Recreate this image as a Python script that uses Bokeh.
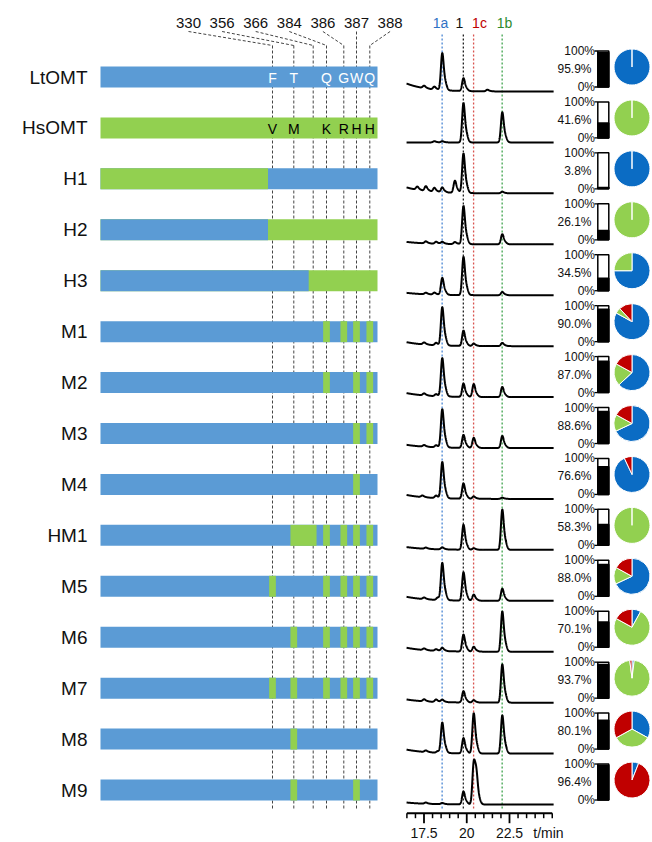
import numpy as np
from bokeh.plotting import figure
from bokeh.models import Range1d
from bokeh.core.properties import value
from bokeh.embed import file_html
from bokeh.resources import INLINE

# ---------------- data ----------------
variants = ["LtOMT", "HsOMT", "H1", "H2", "H3", "M1", "M2", "M3", "M4",
            "HM1", "M5", "M6", "M7", "M8", "M9"]
sites = ["330", "356", "366", "384", "386", "387", "388"]
lt_residues = ["F", "T", "", "Q", "G", "W", "Q"]
hs_residues = ["V", "M", "", "K", "R", "H", "H"]
n_term_origin = ["Lt", "Hs", "Hs", "Lt", "Lt", "Lt", "Lt", "Lt", "Lt", "Lt", "Lt", "Lt", "Lt", "Lt", "Lt"]
c_term_origin = ["Lt", "Hs", "Lt", "Hs", "Hs", "Lt", "Lt", "Lt", "Lt", "Lt", "Lt", "Lt", "Lt", "Lt", "Lt"]
junction_site = [None, None, "330", "330", "366", None, None, None, None, None, None, None, None, None, None]
hs_mutations = [[], [], [], [], [],
                ["384", "386", "387", "388"],
                ["384", "387", "388"],
                ["387", "388"],
                ["387"],
                ["356", "366", "384", "386", "387", "388"],
                ["330", "384", "386", "387", "388"],
                ["356", "384", "386", "387", "388"],
                ["330", "356", "384", "386", "387", "388"],
                ["356"],
                ["356", "387"]]

conversion = [95.9, 41.6, 3.8, 26.1, 34.5, 90.0, 87.0, 88.6, 76.6, 58.3, 88.0, 70.1, 93.7, 80.1, 96.4]
# product distribution (%), drawn clockwise from 12 o'clock: 1a, 1b, 1c
share_1a = [100, 0, 100, 0, 75, 83, 63, 68, 93, 0, 68, 8, 2, 33, 6]
share_1b = [0, 100, 0, 100, 25, 5, 20, 15, 0, 100, 15, 75, 96, 34, 0]
share_1c = [0, 0, 0, 0, 0, 12, 17, 17, 7, 0, 17, 17, 2, 33, 94]

# chromatograms: retention times (min) and relative peak heights
products = ["1a", "1", "1c", "1b"]
retention = [18.56, 19.80, 20.40, 22.07]
height_1a = [0.92, 0.03, 0.12, 0.05, 0.42, 0.95, 0.95, 0.95, 0.90, 0.05, 0.92, 0.08, 0.06, 0.75, 0.03]
height_1 = [0.32, 0.98, 0.98, 0.95, 0.95, 0.38, 0.33, 0.32, 0.38, 0.62, 0.70, 0.42, 0.28, 0.38, 0.32]
height_1c = [0.0, 0.0, 0.0, 0.0, 0.0, 0.06, 0.32, 0.25, 0.06, 0.04, 0.15, 0.12, 0.06, 1.0, 1.0]
height_1b = [0.0, 0.75, 0.04, 0.25, 0.08, 0.08, 0.25, 0.30, 0.03, 1.0, 0.30, 1.0, 0.95, 0.95, 0.0]
minor_peaks = [
    [(17.5, 0.06), (18.1, 0.07), (21.2, 0.04)],
    [(18.1, 0.03)],
    [(17.1, 0.08), (17.6, 0.12), (18.1, 0.10), (19.3, 0.30)],
    [(17.6, 0.05), (18.2, 0.05), (19.3, 0.05)],
    [(17.6, 0.04), (18.1, 0.05)],
    [(17.5, 0.05), (18.2, 0.06)],
    [(17.5, 0.05), (18.2, 0.05)],
    [(17.5, 0.04), (18.2, 0.05)],
    [(17.4, 0.04), (18.2, 0.06)],
    [(17.6, 0.03)],
    [(17.5, 0.04), (18.3, 0.06)],
    [(17.5, 0.04), (18.2, 0.04)],
    [(17.5, 0.05), (18.2, 0.06)],
    [(17.6, 0.04), (18.3, 0.04)],
    [(17.6, 0.03), (20.55, 0.55)],
]
drift = [0.20, 0.0, 0.15, 0.06, 0.06, 0.10, 0.10, 0.08, 0.10, 0.07, 0.10, 0.10, 0.08, 0.10, 0.05]

time_major = [17.5, 20, 22.5]
time_labels = ["17.5", "20", "22.5"]
time_start, time_end = 16.5, 25.0

# ---------------- layout / style ----------------
FONT = "Liberation Sans"
LT_COLOR = "#5B9BD5"
HS_COLOR = "#92D050"
PIE_BLUE = "#0B6CC4"
PIE_RED = "#C00000"
PROD_LINE_COLORS = ["#4A86D4", "#222222", "#D9534F", "#3FA34D"]
PROD_TEXT_COLORS = ["#2F72C4", "#111111", "#C00000", "#2E8B2E"]
PROD_LABEL_X = [440, 459, 479, 504]

W, H = 652, 842
ROW0, ROW_STEP = 76.5, 50.93
BAR_L, BAR_R, BAR_H = 100, 377, 21
SITE_X = [272, 293.3, 312.7, 326, 343.3, 356, 369.3]
SITE_LABEL_X0, SITE_LABEL_DX = 188, 33.6
MUT_W = 6.7
PX_PER_MIN = 17.1
T_REF, X_REF = 17.5, 423.5
CHROM_SCALE = 40
TRACE_T0, TRACE_T1 = 16.48, 25.08

p = figure(width=W, height=H, x_range=Range1d(0, W), y_range=Range1d(H, 0),
           output_backend="svg", toolbar_location=None, min_border=0,
           x_axis_location=None, y_axis_location=None)
p.grid.visible = False
p.outline_line_color = None
p.background_fill_color = "white"
p.extra_x_ranges = {"t": Range1d(T_REF + (0 - X_REF) / PX_PER_MIN,
                                 T_REF + (W - X_REF) / PX_PER_MIN)}

rows_y = [ROW0 + i * ROW_STEP for i in range(len(variants))]
site_pos = dict(zip(sites, SITE_X))
n = len(variants)

# ---- site header labels and leader lines ----
label_x = [SITE_LABEL_X0 + k * SITE_LABEL_DX for k in range(len(sites))]
p.text(x=label_x, y=[22.5] * len(sites), text=sites, text_font=value(FONT),
       text_font_size="15px", text_align="center", text_baseline="middle", text_color="#111111")
p.segment(x0=label_x, y0=[31] * len(sites), x1=SITE_X, y1=[45] * len(sites),
          line_color="#444444", line_dash="3 2", line_width=1)
p.segment(x0=SITE_X, y0=[45] * len(sites), x1=SITE_X, y1=[808] * len(sites),
          line_color="#444444", line_dash="3 2", line_width=1)

# ---- protein bars ----
origin_color = {"Lt": LT_COLOR, "Hs": HS_COLOR}
ql, qr, qt, qb, qc = [], [], [], [], []
for i, v in enumerate(variants):
    y = rows_y[i]
    ql.append(BAR_L); qr.append(BAR_R); qt.append(y - BAR_H / 2); qb.append(y + BAR_H / 2)
    qc.append(origin_color[c_term_origin[i]])
    if junction_site[i] is not None:
        jx = site_pos[junction_site[i]] - 4.5
        ql.append(BAR_L); qr.append(jx); qt.append(y - BAR_H / 2); qb.append(y + BAR_H / 2)
        qc.append(origin_color[n_term_origin[i]])
    muts = hs_mutations[i]
    k = 0
    while k < len(muts):
        s0 = muts[k]
        s1 = s0
        # contiguous swapped region 356-366
        if s0 == "356" and "366" in muts:
            s1 = "366"
        x0 = site_pos[s0] - MUT_W / 2
        x1 = site_pos[s1] + MUT_W / 2
        ql.append(x0); qr.append(x1); qt.append(y - BAR_H / 2); qb.append(y + BAR_H / 2)
        qc.append(HS_COLOR)
        k += 2 if s1 != s0 else 1
p.quad(left=ql, right=qr, top=qt, bottom=qb, fill_color=qc, line_color=None)

# residue letters
for row, letters, col in [(0, lt_residues, "white"), (1, hs_residues, "black")]:
    xs = [site_pos[s] for s, l in zip(sites, letters) if l]
    ts = [l for l in letters if l]
    p.text(x=xs, y=[rows_y[row] + 1] * len(xs), text=ts, text_font=value(FONT),
           text_font_size="14px", text_align="center", text_baseline="middle", text_color=col)

# row labels
p.text(x=[87] * n, y=rows_y, text=variants, text_font=value(FONT),
       text_font_size="19px", text_align="right", text_baseline="middle", text_color="#111111")

# ---- chromatograms ----
p.segment(x0=retention, y0=[34] * 4, x1=retention, y1=[808] * 4, x_range_name="t",
          line_color=PROD_LINE_COLORS, line_dash="2 2", line_width=1.3)
for k in range(4):
    p.text(x=[PROD_LABEL_X[k]], y=[22.5], text=[products[k]], text_font=value(FONT),
           text_font_size="14px", text_align="center", text_baseline="middle",
           text_color=PROD_TEXT_COLORS[k])

t = np.linspace(TRACE_T0, TRACE_T1, 900)
norm = 1 + 0.35 * np.exp(-0.5 * (0.13 / 0.11) ** 2)
for i in range(n):
    sig = drift[i] * np.exp(-(t - TRACE_T0) / 1.2)
    peaks = list(zip(retention, [height_1a[i], height_1[i], height_1c[i], height_1b[i]])) + minor_peaks[i]
    for tp, h in peaks:
        sig = sig + h * (np.exp(-0.5 * ((t - tp) / 0.075) ** 2)
                         + 0.35 * np.exp(-0.5 * ((t - tp - 0.13) / 0.11) ** 2)) / norm
    base = rows_y[i] + 14.5
    p.line(x=t, y=base - CHROM_SCALE * sig, x_range_name="t", line_color="black", line_width=2)

# time axis (drawn with the t scale)
AX_Y = 812.7
p.segment(x0=[time_start], y0=[AX_Y], x1=[time_end], y1=[AX_Y], x_range_name="t",
          line_color="black", line_width=2)
minor = [m for m in np.arange(time_start, time_end + 0.01, 0.5)
         if not any(abs(m - M) < 1e-6 for M in time_major)]
p.segment(x0=minor, y0=[AX_Y] * len(minor), x1=minor, y1=[AX_Y + 5] * len(minor),
          x_range_name="t", line_color="black", line_width=1.5)
p.segment(x0=time_major, y0=[AX_Y] * 3, x1=time_major, y1=[AX_Y + 10] * 3,
          x_range_name="t", line_color="black", line_width=1.8)
p.text(x=time_major, y=[832.5] * 3, text=time_labels, x_range_name="t", text_font=value(FONT),
       text_font_size="14px", text_align="center", text_baseline="middle", text_color="#111111")
p.text(x=[24.78], y=[832.5], text=["t/min"], x_range_name="t", text_font=value(FONT),
       text_font_size="14px", text_align="center", text_baseline="middle", text_color="#111111")

# ---- conversion bars ----
BX0, BX1 = 597.3, 608.3
btop = [y - 26 for y in rows_y]
bbot = [y + 10 for y in rows_y]
bfill = [b - 36 * c / 100 for b, c in zip(bbot, conversion)]
p.quad(left=[BX0] * n, right=[BX1] * n, top=btop, bottom=bbot, fill_color="white",
       line_color="black", line_width=1.5)
p.quad(left=[BX0] * n, right=[BX1] * n, top=bfill, bottom=bbot, fill_color="black",
       line_color="black", line_width=1.5)
p.segment(x0=[594] * n, y0=btop, x1=[BX0] * n, y1=btop, line_color="black", line_width=1.3)
p.segment(x0=[594] * n, y0=bbot, x1=[BX0] * n, y1=bbot, line_color="black", line_width=1.3)
p.text(x=[594.5] * n, y=btop, text=["100%"] * n, text_font=value(FONT), text_font_size="12px",
       text_align="right", text_baseline="middle", text_color="#111111")
p.text(x=[594.5] * n, y=bbot, text=["0%"] * n, text_font=value(FONT), text_font_size="12px",
       text_align="right", text_baseline="middle", text_color="#111111")
p.text(x=[591] * n, y=[(a + b) / 2 for a, b in zip(btop, bbot)],
       text=["%.1f%%" % c for c in conversion], text_font=value(FONT), text_font_size="12px",
       text_align="right", text_baseline="middle", text_color="#111111")

# ---- pies ----
wx, wy, ws, we, wc = [], [], [], [], []
for i in range(n):
    cum = 0.0
    for frac, col in zip([share_1a[i], share_1b[i], share_1c[i]], [PIE_BLUE, HS_COLOR, PIE_RED]):
        if frac <= 0:
            continue
        a0 = np.pi / 2 - 2 * np.pi * cum / 100
        if frac >= 100:
            a1 = a0 - 2 * np.pi * 0.9999
        else:
            a1 = np.pi / 2 - 2 * np.pi * (cum + frac) / 100
        cum += frac
        wx.append(631.5); wy.append(rows_y[i] - 10); ws.append(a0); we.append(a1); wc.append(col)
p.wedge(x=wx, y=wy, radius=18, radius_units="screen", start_angle=ws, end_angle=we,
        direction="clock", fill_color=wc, line_color="white", line_width=1)

open("out.html", "w").write(file_html(p, INLINE))
